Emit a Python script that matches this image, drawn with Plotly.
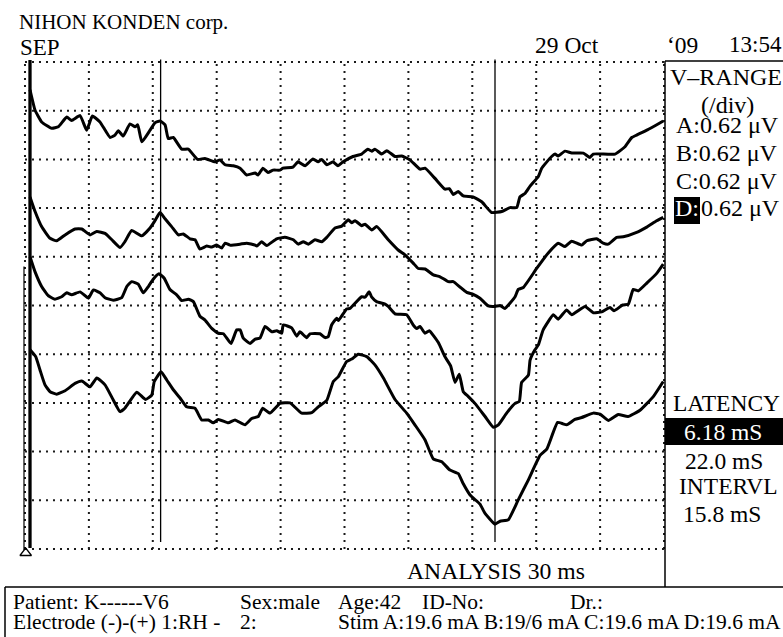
import plotly.graph_objects as go

# ---------------- data (time in ms, amplitude in grid divisions) ----------------
T_A = [0.00, 0.24, 0.55, 1.03, 1.34, 1.74, 1.97, 2.37, 2.68, 2.95, 3.31, 3.79, 4.02, 4.18, 4.41,
       4.73, 4.97, 5.10, 5.29, 5.68, 5.91, 6.15, 6.39, 6.54, 6.78, 7.18, 7.49, 7.93, 8.28, 8.75,
       8.99, 9.23, 9.62, 9.94, 10.25, 10.65, 10.79, 11.02, 11.26, 11.50, 11.83, 11.97, 12.44,
       12.68, 13.01, 13.39, 13.63, 13.80, 14.05, 14.34, 14.57, 14.81, 15.28, 15.69, 15.98, 16.17,
       16.32, 16.64, 16.88, 17.27, 17.59, 17.98, 18.45, 18.69, 19.16, 19.63, 19.84, 20.03, 20.26,
       20.50, 20.96, 21.37, 21.84, 22.32, 22.71, 23.03, 23.18, 23.42, 23.66, 24.05, 24.21, 24.68,
       24.84, 24.99, 25.31, 25.63, 26.18, 26.49, 26.65, 27.68, 28.15, 28.47, 28.70, 29.18, 29.96]
V_A = [9.43, 9.01, 8.77, 8.64, 8.67, 8.87, 8.80, 8.90, 8.60, 8.89, 8.77, 8.45, 8.50, 8.59, 8.48,
       8.73, 8.67, 8.71, 8.36, 8.60, 8.75, 8.79, 8.71, 8.43, 8.45, 8.21, 8.21, 8.00, 8.02, 7.95,
       7.99, 7.89, 7.87, 7.82, 7.68, 7.72, 7.68, 7.82, 7.73, 7.78, 7.78, 7.82, 7.84,
       7.95, 7.87, 8.01, 7.95, 8.00, 7.89, 7.95, 7.87, 7.95, 8.06, 8.11, 8.21, 8.17,
       8.21, 8.11, 8.18, 8.06, 8.07, 7.99, 7.80, 7.82, 7.61, 7.39, 7.40, 7.28, 7.34,
       7.25, 7.23, 7.13, 6.91, 6.93, 7.01, 7.01, 7.23, 7.30, 7.45, 7.65, 7.82, 8.06,
       8.11, 8.07, 8.17, 8.13, 8.13, 8.04, 8.11, 8.11, 8.26, 8.45, 8.50, 8.60, 8.79]

T_B = [0.00, 0.24, 0.55, 0.95, 1.26, 1.66, 2.13, 2.45, 2.84, 3.16, 3.55, 3.87, 4.26, 4.49, 4.81,
       5.29, 5.68, 5.91, 6.15, 6.39, 6.70, 7.02, 7.25, 7.57, 7.81, 8.04, 8.36, 8.60, 8.83, 9.07,
       9.23, 9.46, 9.94, 10.25, 10.65, 10.73, 10.96, 11.20, 11.67, 12.06, 12.46, 12.69, 12.93,
       13.17, 13.48, 13.80, 14.04, 14.43, 14.75, 15.06, 15.22, 15.38, 15.69, 15.85, 16.17, 16.40,
       16.95, 17.42, 17.74, 18.13, 18.37, 18.69, 19.08, 19.40, 19.79, 20.03, 20.34, 20.66, 20.97,
       21.29, 21.68, 22.00, 22.24, 22.47, 22.95, 23.10, 23.34, 23.97, 24.52, 24.99, 25.31, 25.63,
       26.10, 26.34, 26.81, 27.12, 27.36, 27.76, 28.07, 28.70, 29.18, 29.65, 29.96]
V_B = [7.23, 6.93, 6.62, 6.38, 6.33, 6.45, 6.57, 6.57, 6.45, 6.52, 6.48, 6.35, 6.19, 6.31, 6.54,
       6.43, 6.59, 6.74, 6.91, 6.78, 6.62, 6.45, 6.47, 6.37, 6.35, 6.16, 6.22, 6.20, 6.24, 6.18,
       6.28, 6.24, 6.26, 6.28, 6.24, 6.22, 6.31, 6.23, 6.37, 6.40, 6.35, 6.26, 6.31,
       6.26, 6.35, 6.31, 6.40, 6.59, 6.63, 6.76, 6.70, 6.74, 6.64, 6.67, 6.55, 6.62,
       6.35, 6.14, 6.04, 5.87, 5.76, 5.75, 5.63, 5.59, 5.49, 5.49, 5.38, 5.27, 5.23,
       5.15, 4.99, 4.98, 5.00, 4.94, 5.18, 5.33, 5.37, 5.76, 6.08, 6.28, 6.21, 6.32,
       6.24, 6.33, 6.37, 6.28, 6.26, 6.40, 6.41, 6.50, 6.61, 6.74, 6.81]

T_C = [0.00, 0.24, 0.55, 0.87, 1.18, 1.50, 1.74, 1.97, 2.37, 2.76, 3.00, 3.31, 3.55, 3.94, 4.34,
       4.58, 4.81, 5.12, 5.36, 5.60, 5.83, 6.10, 6.35, 6.62, 6.94, 7.18, 7.49, 7.73, 8.04, 8.28,
       8.60, 8.91, 9.15, 9.51, 9.78, 9.94, 10.09, 10.41, 10.65, 10.88, 11.12, 11.44, 11.67, 11.91,
       11.98, 12.38, 12.62, 12.77, 13.09, 13.25, 13.72, 13.96, 14.11, 14.27, 14.51, 14.59, 14.98,
       15.14, 15.69, 15.85, 16.05, 16.17, 16.40, 16.80, 16.95, 17.27, 17.82, 18.13, 18.30, 18.45,
       18.69, 18.89, 19.32, 19.63, 19.90, 20.11, 20.31, 20.50, 20.74, 21.05, 21.53, 21.92, 22.16,
       22.55, 22.95, 23.15, 23.26, 23.58, 23.66, 23.89, 24.05, 24.28, 24.76, 24.99, 25.39, 25.63,
       26.26, 26.65, 27.05, 27.44, 27.63, 28.04, 28.31, 28.54, 28.78, 29.18, 29.65, 29.96]
V_C = [6.00, 5.69, 5.39, 5.20, 5.13, 5.18, 5.26, 5.22, 5.28, 5.15, 5.32, 5.26, 5.16, 5.11, 5.16,
       5.39, 5.49, 5.44, 5.26, 5.39, 5.54, 5.65, 5.56, 5.33, 5.22, 5.10, 5.13, 5.08, 4.78, 4.70,
       4.53, 4.43, 4.42, 4.22, 4.50, 4.50, 4.33, 4.22, 4.31, 4.33, 4.57, 4.46, 4.48, 4.43,
       4.60, 4.54, 4.37, 4.46, 4.34, 4.42, 4.42, 4.34, 4.36, 4.60, 4.74, 4.69, 4.93,
       4.94, 5.18, 5.17, 5.28, 5.17, 5.08, 5.03, 4.98, 4.83, 4.81, 4.60, 4.53, 4.57,
       4.43, 4.48, 4.24, 3.95, 3.76, 3.42, 3.59, 3.23, 3.13, 2.99, 2.72, 2.50, 2.55,
       2.79, 2.99, 3.03, 3.42, 3.57, 3.88, 4.09, 4.19, 4.50, 4.81, 4.72, 4.91, 4.81,
       4.98, 4.85, 4.87, 4.96, 4.89, 5.01, 5.03, 5.33, 5.30, 5.46, 5.66, 5.85]

T_D = [0.00, 0.27, 0.47, 0.71, 0.95, 1.26, 1.66, 2.13, 2.45, 2.84, 3.16, 3.55, 3.94, 4.26, 4.49,
       5.05, 5.47, 5.76, 5.88, 6.20, 6.47, 6.78, 7.10, 7.41, 7.81, 8.12, 8.44, 8.67, 8.91, 9.38,
       9.70, 10.17, 10.49, 10.80, 11.01, 11.35, 11.83, 12.30, 12.85, 13.33, 13.64, 14.04, 14.35,
       14.59, 14.98, 15.22, 15.53, 15.93, 16.32, 16.72, 17.27, 17.82, 18.21, 18.69, 19.08, 19.48,
       19.87, 20.26, 20.50, 20.82, 21.29, 21.53, 22.00, 22.24, 22.63, 23.10, 23.58, 24.13, 24.45,
       24.96, 25.22, 25.39, 25.78, 26.10, 26.65, 26.97, 27.36, 27.83, 28.29, 28.86, 29.49, 29.96]
V_D = [4.09, 3.95, 3.68, 3.37, 3.23, 3.18, 3.25, 3.40, 3.45, 3.33, 3.51, 3.37, 3.06, 2.82, 2.89,
       3.22, 3.07, 3.16, 3.44, 3.64, 3.47, 3.27, 3.10, 2.92, 2.89, 2.65, 2.65, 2.59, 2.66, 2.59,
       2.65, 2.55, 2.68, 2.72, 2.89, 2.79, 2.99, 3.00, 2.79, 2.80, 2.92, 3.05, 3.44,
       3.54, 3.85, 3.90, 4.00, 3.95, 3.78, 3.51, 3.07, 2.79, 2.55, 2.24, 1.85, 1.79,
       1.62, 1.55, 1.34, 1.11, 0.92, 0.73, 0.51, 0.57, 0.60, 1.01, 1.42, 1.92, 2.05,
       2.60, 2.57, 2.55, 2.66, 2.70, 2.79, 2.77, 2.64, 2.76, 2.72, 2.85, 3.13, 3.44]

LATENCY_MS = [6.18, 22.0]
INTERVAL_MS = 15.8
CHANNELS = ["A", "B", "C", "D"]
V_PER_DIV = [0.62, 0.62, 0.62, 0.62]
STIM_LABELS = ["A:19.6 mA", "B:19/6 mA", "C:19.6 mA", "D:19.6 mA"]
ANALYSIS_MS = 30

# ---------------- layout geometry ----------------
W, H = 783, 637
ML, MR, MT, MB = 20, 118, 57, 81
XR = [-0.473, 30.043]
YR = [-0.144, 10.103]
PW, PH = W - ML - MR, H - MT - MB

FONT = "Liberation Serif, Times New Roman, serif"


def px(xp):
    return (xp - ML) / PW


def py(yp):
    return (H - MB - yp) / PH


fig = go.Figure()

# dotted grid: 10 x 10 divisions (3.02 ms/div horizontally)
GX0, GDX = -0.237, 3.0233
grid_x = [GX0 + k * GDX for k in range(11)]
grid_y = list(range(11))
vx, vy, hx, hy = [], [], [], []
for g in grid_x:
    vx += [g, g, None]
    vy += [0, 10, None]
for g in grid_y:
    hx += [grid_x[0], grid_x[-1], None]
    hy += [g, g, None]
grid_line = dict(color="#1a1a1a", width=2, dash="2px,5px")
fig.add_trace(go.Scatter(x=vx, y=vy, mode="lines", line=grid_line, hoverinfo="skip"))
fig.add_trace(go.Scatter(x=hx, y=hy, mode="lines", line=grid_line, hoverinfo="skip"))

# stimulus onset marker (thick) and left reference line
fig.add_trace(go.Scatter(x=[0, 0], y=[0.02, 10.04], mode="lines",
                         line=dict(color="black", width=3.3), hoverinfo="skip"))
fig.add_trace(go.Scatter(x=[-0.284, -0.284], y=[-0.02, 5.80], mode="lines",
                         line=dict(color="black", width=1.2), hoverinfo="skip"))
fig.add_trace(go.Scatter(x=[-0.203], y=[-0.082], mode="markers", cliponaxis=False,
                         marker=dict(symbol="triangle-up-open", size=10, color="black",
                                     line=dict(width=1.3, color="black")), hoverinfo="skip"))

# latency cursors
lx, ly = [], []
for t in LATENCY_MS:
    lx += [t, t, None]
    ly += [0.144, 10.05, None]
fig.add_trace(go.Scatter(x=lx, y=ly, mode="lines", line=dict(color="black", width=1.3),
                         hoverinfo="skip"))

# waveforms
for t, v, name in [(T_A, V_A, "A"), (T_B, V_B, "B"), (T_C, V_C, "C"), (T_D, V_D, "D")]:
    fig.add_trace(go.Scatter(x=t, y=v, mode="lines", name=name,
                             line=dict(color="black", width=3.0, shape="spline",
                                       smoothing=0.4)))

# ---------------- frames / boxes ----------------
shapes = []
lw = dict(color="black", width=1.5)
shapes.append(dict(type="line", xref="paper", yref="paper", x0=px(665), x1=px(665),
                   y0=py(61), y1=py(587), line=lw))
shapes.append(dict(type="line", xref="paper", yref="paper", x0=px(665), x1=px(795),
                   y0=py(61), y1=py(61), line=lw))
shapes.append(dict(type="line", xref="paper", yref="paper", x0=px(5), x1=px(795),
                   y0=py(587), y1=py(587), line=lw))
shapes.append(dict(type="line", xref="paper", yref="paper", x0=px(5), x1=px(5),
                   y0=py(587), y1=py(650), line=lw))
shapes.append(dict(type="rect", xref="paper", yref="paper", x0=px(674), x1=px(700),
                   y0=py(224), y1=py(197), fillcolor="black", line=dict(width=0)))
shapes.append(dict(type="rect", xref="paper", yref="paper", x0=px(665), x1=px(795),
                   y0=py(445), y1=py(418), fillcolor="black", line=dict(width=0)))

# ---------------- texts ----------------
ann = []


def txt(s, x, y, anchor="left", size=22, color="black"):
    ann.append(dict(text=s, xref="paper", yref="paper", x=px(x), y=py(y),
                    xanchor=anchor, yanchor="middle", showarrow=False,
                    borderpad=0, borderwidth=0,
                    font=dict(family=FONT, size=size, color=color)))


txt("NIHON KONDEN corp.", 19, 21.7, size=21)
txt("SEP", 20, 47.5, size=23)
txt("29 Oct", 535, 45, size=23.5)
txt("\u201809", 667, 45, size=23.5)
txt("13:54", 729, 45, size=23)

txt("V\u2013RANGE", 726, 76.5, "center", 24)
txt("(/div)", 727, 105, "center", 24)
row_y = [125.5, 153, 181, 208]
for ch, vd, yy in zip(CHANNELS, V_PER_DIV, row_y):
    if ch == "D":
        txt(ch + ":", 675.5, yy, size=24, color="white")
        txt(f"{vd:.2f} \u03bcV", 700.5, yy, size=24)
    else:
        txt(f"{ch}:{vd:.2f} \u03bcV", 676, yy, size=24)

txt("LATENCY", 726.5, 403.3, "center", 23.5)
txt(f"{LATENCY_MS[0]:.2f} mS", 723, 431.5, "center", 23.5, "white")
txt(f"{LATENCY_MS[1]:.1f} mS", 724, 461, "center", 23.5)
txt("INTERVL", 728, 485.5, "center", 23.5)
txt(f"{INTERVAL_MS:.1f} mS", 722, 514, "center", 23.5)
txt(f"ANALYSIS {ANALYSIS_MS} ms", 406.7, 570.5, size=23.7)

txt("Patient: K------V6", 13.3, 601.7, size=21.5)
txt("Sex:male", 240, 601.7, size=21.5)
txt("Age:42", 338.3, 601.7, size=21.5)
txt("ID-No:", 421.7, 601.7, size=21.5)
txt("Dr.:", 570, 601.7, size=21.5)
txt("Electrode (-)-(+) 1:RH -", 13.3, 622, size=21.5)
txt("2:", 240, 622, size=21.5)
txt("Stim " + " ".join(STIM_LABELS), 338.3, 622, size=21.5)

fig.update_layout(
    width=W, height=H,
    margin=dict(l=ML, r=MR, t=MT, b=MB, pad=0),
    paper_bgcolor="white", plot_bgcolor="white",
    showlegend=False,
    xaxis=dict(range=XR, visible=False, fixedrange=True),
    yaxis=dict(range=YR, visible=False, fixedrange=True),
    shapes=shapes,
    annotations=ann,
)

fig.write_html("out.html", config={"displayModeBar": False},
               post_script="document.body.style.margin='0';document.body.style.overflow='hidden';")
